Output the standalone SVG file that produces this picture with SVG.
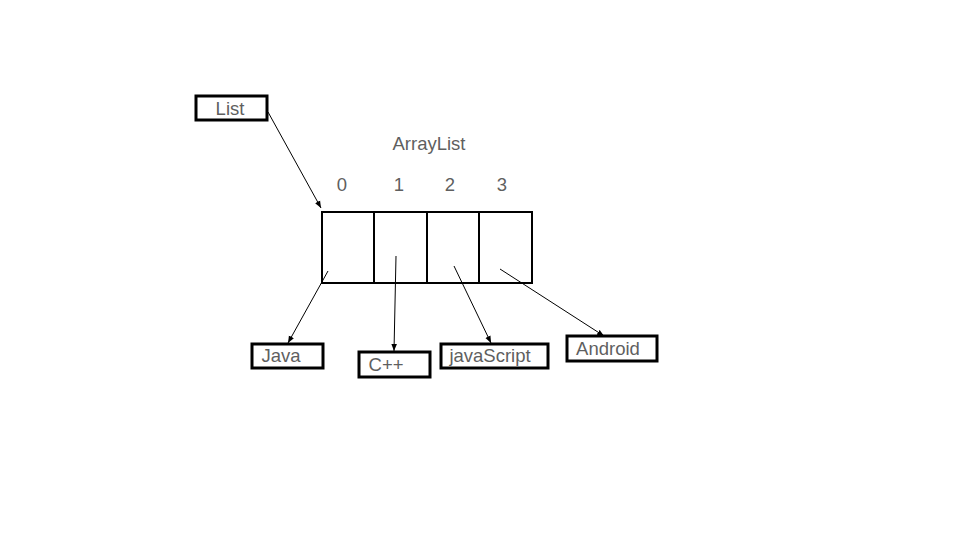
<svg xmlns="http://www.w3.org/2000/svg" width="960" height="540" viewBox="0 0 960 540">
<defs>
<marker id="ah" viewBox="0 0 10 10" refX="10" refY="5" markerWidth="7" markerHeight="7" orient="auto" markerUnits="userSpaceOnUse">
<path d="M0,1 L10,5 L0,9 Z" fill="#000"/>
</marker>
</defs>
<style>
.box{fill:#fff;stroke:#000;stroke-width:3}
.cell{fill:#fff;stroke:#000;stroke-width:2}
.t{font-family:"Liberation Sans",Arial,sans-serif;font-size:18.5px;fill:#5f5f5f}
.c{stroke:#000;stroke-width:1;fill:none;marker-end:url(#ah)}
</style>
<rect width="960" height="540" fill="#fff"/>
<text class="t" x="429" y="150" text-anchor="middle">ArrayList</text>
<g id="indices">
<text class="t" x="342" y="191" text-anchor="middle">0</text>
<text class="t" x="399" y="191" text-anchor="middle">1</text>
<text class="t" x="450" y="191" text-anchor="middle">2</text>
<text class="t" x="502" y="191" text-anchor="middle">3</text>
</g>
<g id="array">
<rect class="cell" x="322" y="212" width="52" height="71"/>
<rect class="cell" x="374" y="212" width="53" height="71"/>
<rect class="cell" x="427" y="212" width="52" height="71"/>
<rect class="cell" x="479" y="212" width="53" height="71"/>
</g>
<g id="list">
<rect class="box" x="196" y="96" width="71" height="24"/>
<text class="t" x="230" y="115" text-anchor="middle">List</text>
</g>
<g id="java">
<rect class="box" x="252" y="344" width="71" height="24"/>
<text class="t" x="281" y="362" text-anchor="middle">Java</text>
</g>
<g id="cpp">
<rect class="box" x="359" y="352" width="71" height="25"/>
<text class="t" x="386" y="371" text-anchor="middle">C++</text>
</g>
<g id="javascript">
<rect class="box" x="441" y="344" width="107" height="24"/>
<text class="t" x="490" y="362" text-anchor="middle">javaScript</text>
</g>
<g id="android">
<rect class="box" x="567" y="336" width="90" height="25"/>
<text class="t" x="608" y="355" text-anchor="middle">Android</text>
</g>
<g id="connectors">
<line class="c" x1="268" y1="112" x2="321" y2="208"/>
<line class="c" x1="328" y1="271" x2="288" y2="343"/>
<line class="c" x1="396" y1="256" x2="394" y2="351"/>
<line class="c" x1="454" y1="266" x2="491" y2="343"/>
<line class="c" x1="500" y1="269" x2="604" y2="336"/>
</g>
</svg>
